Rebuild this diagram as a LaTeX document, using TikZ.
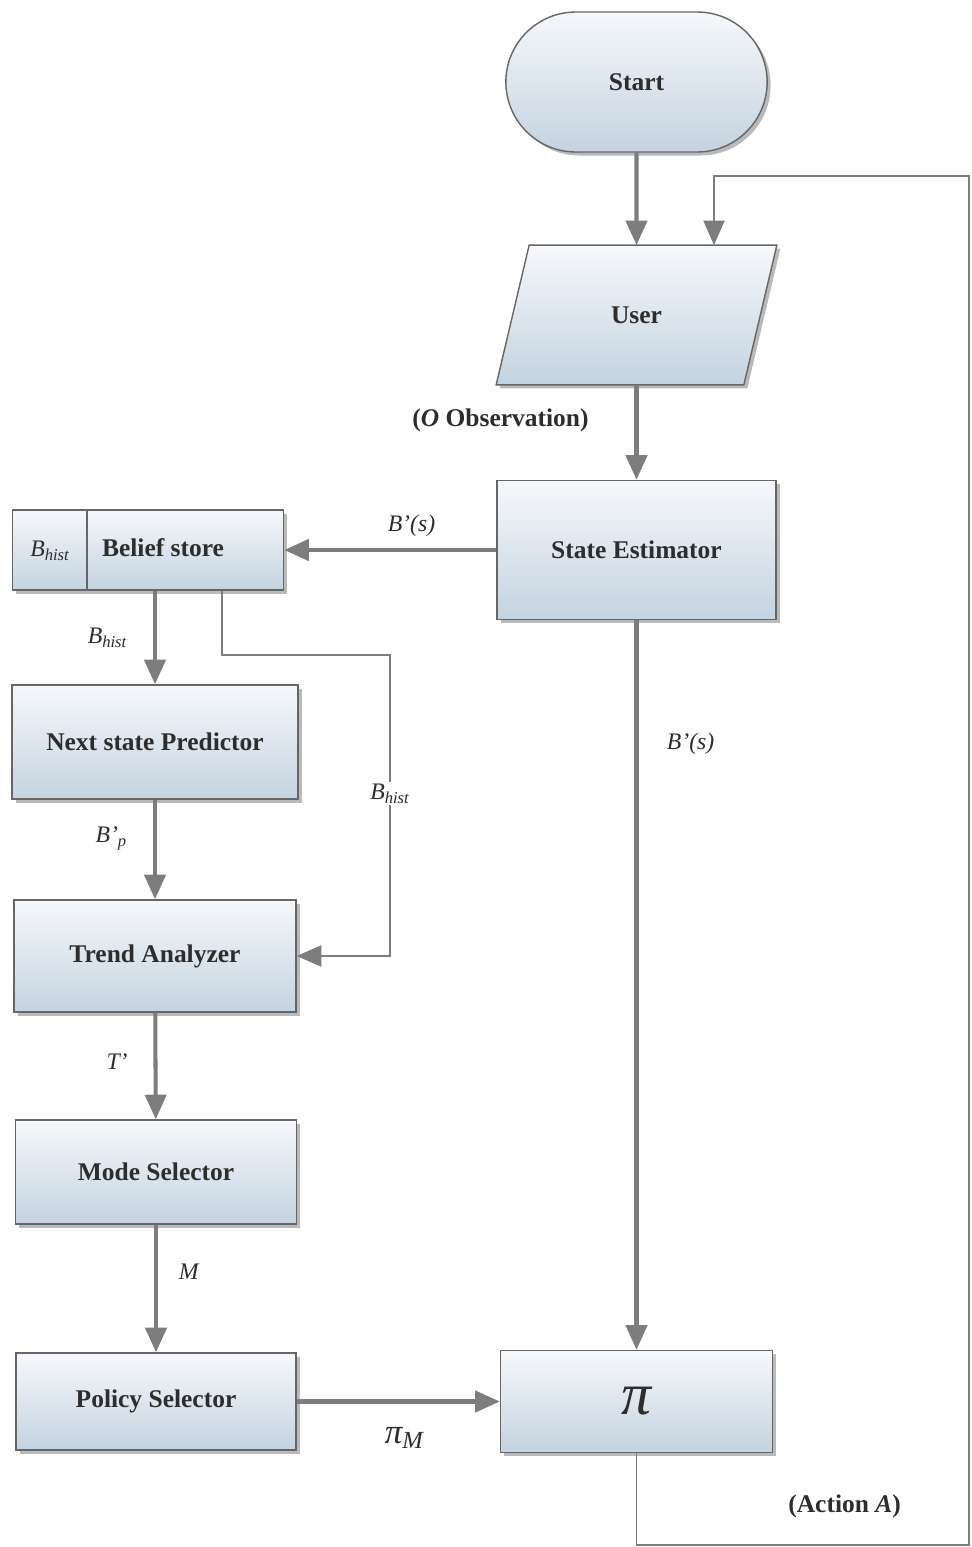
\documentclass[tikz,border=0pt]{standalone}
\usepackage{amsmath}
\usepackage{fontspec}
\setmainfont{Liberation Serif}
\usetikzlibrary{arrows.meta,shapes.misc,shadows,backgrounds}
\definecolor{boxtop}{RGB}{246,248,251}
\definecolor{boxbot}{RGB}{196,211,224}
\definecolor{linegray}{RGB}{125,125,125}
\definecolor{textgray}{RGB}{45,45,45}
\begin{document}
\begin{tikzpicture}[>={Triangle[width=12pt,length=14pt]},
  boxtext/.style={font=\fontsize{14.5}{17}\selectfont\bfseries,text=textgray},
  boxfill/.style={draw=black!60,line width=0.8pt,top color=boxtop,bottom color=boxbot,
    drop shadow={shadow xshift=0.07cm,shadow yshift=-0.07cm,fill=black!60,opacity=0.45}},
  box/.style={boxtext,boxfill},
  lab/.style={font=\fontsize{13.5}{16}\selectfont\itshape,text=textgray},
  flow/.style={draw=linegray,line width=2.3pt},
  fbline/.style={draw=linegray,line width=1.1pt}]
  \useasboundingbox (0,0) rectangle (19.42,-30.94);
  % right column
  \node[box,rounded rectangle,minimum width=5.46cm,minimum height=2.8cm] (start) at (12.73,-1.64) {Start};
  \node[boxtext,minimum width=4.94cm,minimum height=2.78cm] (user) at (12.73,-6.30) {User};
  \begin{scope}[on background layer]
    \path[boxfill] ([xshift=0.33cm]user.north west) -- ([xshift=0.33cm]user.north east)
      -- ([xshift=-0.33cm]user.south east) -- ([xshift=-0.33cm]user.south west) -- cycle;
  \end{scope}
  \node[box,minimum width=5.58cm,minimum height=2.78cm] (est) at (12.73,-11.0) {State Estimator};
  \node[box,minimum width=5.44cm,minimum height=2.04cm,font=\fontsize{34}{38}\selectfont\mdseries\itshape] (pi) at (12.73,-28.03) {π};
  % left column
  \node[box,minimum width=5.42cm,minimum height=1.6cm] (belief) at (2.96,-11.0) {};
  \draw[draw=black!60,line width=0.8pt] ([xshift=1.5cm]belief.north west) -- ([xshift=1.5cm]belief.south west);
  \node[lab] (bhist) at (1.0,-11.02) {$\textit{B}_{\textit{hist}}$};
  \node[boxtext] (bstore) at (3.26,-10.96) {Belief store};
  \node[box,minimum width=5.72cm,minimum height=2.28cm] (next) at (3.10,-14.84) {Next state Predictor};
  \node[box,minimum width=5.64cm,minimum height=2.24cm] (trend) at (3.10,-19.12) {Trend Analyzer};
  \node[box,minimum width=5.62cm,minimum height=2.08cm] (mode) at (3.12,-23.44) {Mode Selector};
  \node[box,minimum width=5.60cm,minimum height=1.94cm] (policy) at (3.12,-28.03) {Policy Selector};
  \coordinate (bturn) at (7.80,-13.10);
  \coordinate (fbr) at (19.38,-30.90);
  \coordinate (fbt) at (19.38,-3.52);
  % connectors
  \draw[flow,->] (start) -- (user);
  \draw[flow,->] (user) -- node[pos=0.37,left=0.8cm,boxtext] (lobs) {(\textit{O} Observation)} (est);
  \draw[flow,->] (est) -- node[pos=0.4,above=0.12cm,lab] (lbs1) {B’(s)} (belief);
  \draw[flow,->] (est) -- node[pos=0.17,right=0.45cm,lab] (lbs2) {B’(s)} (pi);
  \draw[flow,->] (belief.south -| next.north) -- node[left=0.4cm,lab] (lbh1) {$\textit{B}_{\textit{hist}}$} (next);
  \draw[fbline,->] ([xshift=1.48cm]belief.south) |- (bturn)
    |- node[pos=0.23,fill=white,inner sep=1pt,lab] (lbh2) {$\textit{B}_{\textit{hist}}$} (trend.east);
  \draw[flow,->] (next) -- node[pos=0.39,left=0.4cm,lab] (lbp) {$\textit{B’}_{\textit{p}}$} (trend);
  \draw[flow,->] (trend) -- node[pos=0.46,left=0.4cm,lab] (lt) {T’} (mode);
  \draw[flow,->] (mode) -- node[pos=0.37,right=0.3cm,lab] (lm) {M} (policy);
  \draw[flow,->] (policy) -- node[pos=0.53,below=0.35cm,font=\fontsize{20}{22}\selectfont\itshape,text=textgray] (lpm) {$\text{π}_{\textit{M}}$} (pi);
  \draw[fbline,->] (pi) |- node[pos=0.29,right=2.9cm,boxtext] (lact) {(Action \textit{A})} (fbr)
    -- (fbt) -| ([xshift=1.55cm]user.north);
\end{tikzpicture}
\end{document}
